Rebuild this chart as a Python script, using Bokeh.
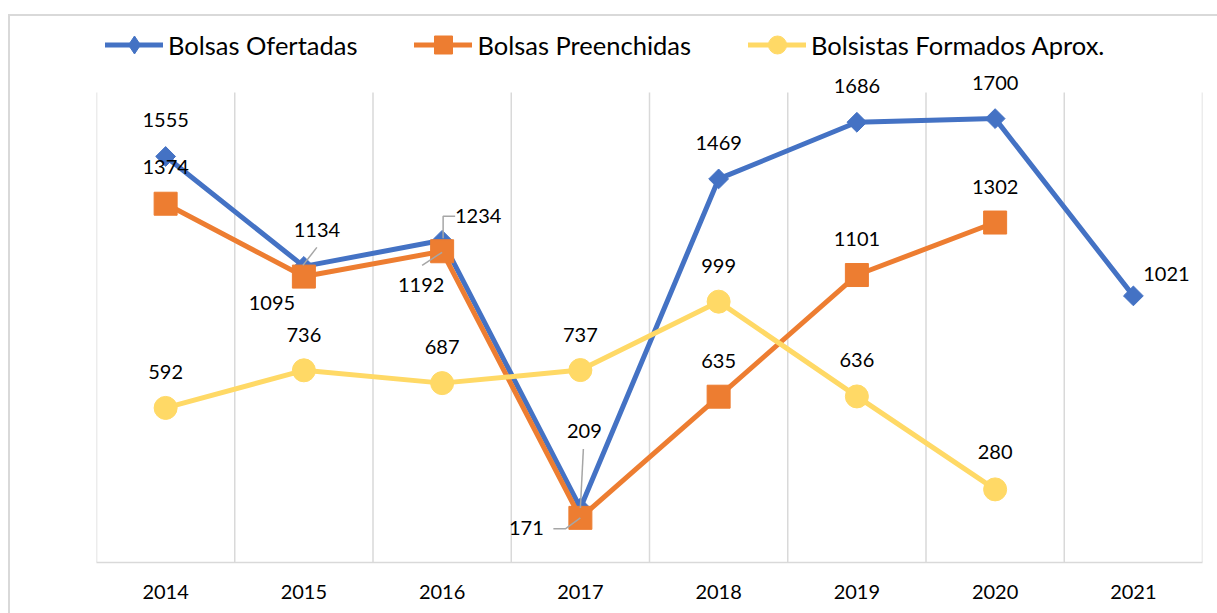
import numpy as np
from bokeh.plotting import figure
from bokeh.models import Range1d, FixedTicker, Legend, LegendItem, ColumnDataSource
from bokeh.core.properties import value
from bokeh.embed import file_html
from bokeh.resources import INLINE

# ---------------- data ----------------
years = ["2014", "2015", "2016", "2017", "2018", "2019", "2020", "2021"]
ofertadas = [1555, 1134, 1234, 209, 1469, 1686, 1700, 1021]
preenchidas = [1374, 1095, 1192, 171, 635, 1101, 1302]
formados = [592, 736, 687, 737, 999, 636, 280]

series_names = ["Bolsas Ofertadas", "Bolsas Preenchidas", "Bolsistas Formados Aprox."]

# ---------------- styles / label placement (screen px) ----------------
BLUE, ORANGE, YELLOW = "#4472C4", "#ED7D31", "#FFD966"
GRID = "#d9d9d9"
FONT = "Lato"

of_dx = [0, 13, 36, 4, 0, 0, 0, 33]
of_dy = [-36, -36, -24, -77, -36, -36, -36, -22]
pr_dx = [0, -32, -21, -54, 0, 0, 0]
pr_dy = [-37, 26, 34, 10, -36, -36, -36]
fo_dx = [0, 0, 0, 0, 0, 0, 0]
fo_dy = [-36, -35, -36, -35, -36, -36, -37]

# leader lines: (series values, index, list of screen-px offsets from the point)
leaders = [
    (ofertadas, 1, [(13, -19), (-1, -1)]),
    (ofertadas, 2, [(13, -24), (1, -24), (1, -2)]),
    (preenchidas, 2, [(-20, 14), (0, 1)]),
    (ofertadas, 3, [(3, -59), (0, 0)]),
    (preenchidas, 3, [(-27, 11), (-15, 11), (0, 0)]),
]

W, H = 1209, 599
ML, MR, MB = 88, 15, 51
PLOT_TOP = 78          # px from figure top where the value axis max sits
YMAX = 1800
px_x = (W - ML - MR) / len(years)
px_y = (H - PLOT_TOP - MB) / YMAX
YTOP = (H - MB) / px_y   # frame extends to the top of the figure (legend/labels live there)

p = figure(width=W, height=H, x_range=Range1d(-0.5, len(years) - 0.5),
           y_range=Range1d(0, YTOP), output_backend="svg", toolbar_location=None,
           min_border_left=ML, min_border_right=MR, min_border_top=0,
           min_border_bottom=MB, margin=(14, 0, 0, 8))
p.border_fill_color = None
p.background_fill_color = None
p.outline_line_color = None
p.styles = {"box-shadow": "inset 2px 2px 0 0 #d9d9d9"}

p.yaxis.visible = False
p.ygrid.visible = False
p.xgrid.visible = False

# vertical category separators (plot-area gridlines), up to the value-axis max
gx = [i - 0.5 for i in range(len(years) + 1)]
p.segment(x0=gx, y0=[0] * len(gx), x1=gx, y1=[YMAX] * len(gx),
          line_color=GRID, line_width=1.5)

ax = p.xaxis[0]
ax.ticker = FixedTicker(ticks=list(range(len(years))))
ax.major_label_overrides = {i: y for i, y in enumerate(years)}
ax.major_tick_line_color = None
ax.major_tick_out = 0
ax.major_tick_in = 0
ax.minor_tick_line_color = None
ax.axis_line_color = GRID
ax.axis_line_width = 1.5
ax.major_label_text_font = FONT
ax.major_label_text_font_size = "20px"
ax.major_label_text_color = "#000000"
ax.major_label_standoff = 22

xo = list(range(len(ofertadas)))
xp = list(range(len(preenchidas)))
xf = list(range(len(formados)))

# lines
p.line(xo, ofertadas, line_color=BLUE, line_width=5, line_join="round")
p.scatter(xo, ofertadas, marker="square", angle=np.pi / 4, size=14,
          fill_color=BLUE, line_color=BLUE)
p.line(xp, preenchidas, line_color=ORANGE, line_width=5, line_join="round")
p.scatter(xp, preenchidas, marker="square", size=23, fill_color=ORANGE, line_color=ORANGE)
p.line(xf, formados, line_color=YELLOW, line_width=5, line_join="round")
p.scatter(xf, formados, marker="circle", size=23, fill_color=YELLOW, line_color=YELLOW)

# leader lines
lx, ly = [], []
for vals, i, offs in leaders:
    lx.append([i + dx / px_x for dx, dy in offs])
    ly.append([vals[i] - dy / px_y for dx, dy in offs])
p.multi_line(lx, ly, line_color="#a6a6a6", line_width=1.5)

# data labels
def labels(xs, vals, dx, dy):
    src = ColumnDataSource(dict(x=xs, y=vals, t=[str(v) for v in vals], dx=dx, dy=dy))
    p.text("x", "y", text="t", x_offset="dx", y_offset="dy", source=src,
           text_align="center", text_baseline="middle", text_font=value(FONT),
           text_font_size="20px", text_color="#000000")

labels(xo, ofertadas, of_dx, of_dy)
labels(xp, preenchidas, pr_dx, pr_dy)
labels(xf, formados, fo_dx, fo_dy)

# legend (dummy renderers that draw nothing in the plot)
nan = [np.nan]
items = []
for name, col, mk in zip(series_names, [BLUE, ORANGE, YELLOW], ["diamond", "square", "circle"]):
    r1 = p.line(nan, nan, line_color=col, line_width=5, line_cap="round")
    r2 = p.scatter(nan, nan, marker=mk, fill_color=col, line_color=col)
    items.append(LegendItem(label=name, renderers=[r1, r2]))

# location = bottom-left corner of the legend, px from the frame's bottom-left
leg = Legend(items=items, orientation="horizontal", location=(9, 495),
             glyph_width=58, glyph_height=45, label_standoff=5, spacing=57,
             padding=0, margin=0, border_line_color=None, background_fill_alpha=0,
             label_text_font=FONT, label_text_font_size="25.5px",
             label_text_color="#000000")
p.add_layout(leg)

open("out.html", "w").write(file_html(p, INLINE))
